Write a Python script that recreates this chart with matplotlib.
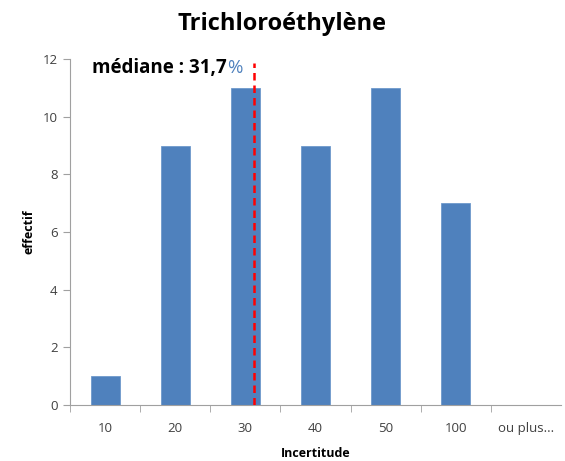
import matplotlib
matplotlib.use("Agg")
import matplotlib.pyplot as plt

# data
categories = ["10", "20", "30", "40", "50", "100", "ou plus..."]
counts = [1, 9, 11, 9, 11, 7, 0]
median = 31.7
yticks = [0, 2, 4, 6, 8, 10, 12]

plt.rcParams['font.family'] = ['Open Sans', 'DejaVu Sans']

fig = plt.figure(figsize=(5.65, 4.61), dpi=100)
ax = fig.add_axes([0.124, 0.1215, 0.869, 0.7505])

pos = list(range(len(categories)))
ax.bar(pos, counts, width=0.41, color="#4f81bd", edgecolor="#6f99cc", linewidth=0.6, zorder=2)

# median line, drawn just right of the "30" bar centre as in the source chart
med_x = 2.12
ax.plot([med_x, med_x], [0, 11.85], color="red", linestyle=(0, (3, 2)), linewidth=1.8, zorder=3)

t = ax.text(-0.19, 11.68, "médiane : " + str(median).replace(".", ","), fontsize=13.5,
            fontweight="bold", color="black", va="center")
ax.annotate("%", xy=(1, 0.5), xycoords=t, xytext=(0.5, 0), textcoords="offset points",
            fontsize=13.5, color="#4f81bd", va="center", ha="left")

ax.set_xlim(-0.5, len(categories) - 0.5)
ax.set_ylim(0, 12)
ax.set_yticks(yticks)
ax.set_xticks(pos)
ax.set_xticklabels(categories)
ax.set_xticks([p + 0.5 for p in pos[:-1]] + [-0.5], minor=True)
ax.tick_params(axis="x", which="major", length=0, pad=12, labelsize=9.5, colors="#404040")
ax.tick_params(axis="x", which="minor", length=5, color="#a0a0a0", direction="out")
ax.tick_params(axis="y", length=5, color="#a0a0a0", labelsize=9.5, labelcolor="#404040", pad=4)

for s in ["top", "right"]:
    ax.spines[s].set_visible(False)
for s in ["left", "bottom"]:
    ax.spines[s].set_color("#a0a0a0")

ax.set_xlabel("Incertitude", fontsize=9, fontweight="bold", labelpad=9)
ax.set_ylabel("effectif", fontsize=9, fontweight="bold", labelpad=5)
fig.suptitle("Trichloroéthylène", fontsize=17, fontweight="bold", y=0.975)

fig.savefig("out.png", dpi=100)
